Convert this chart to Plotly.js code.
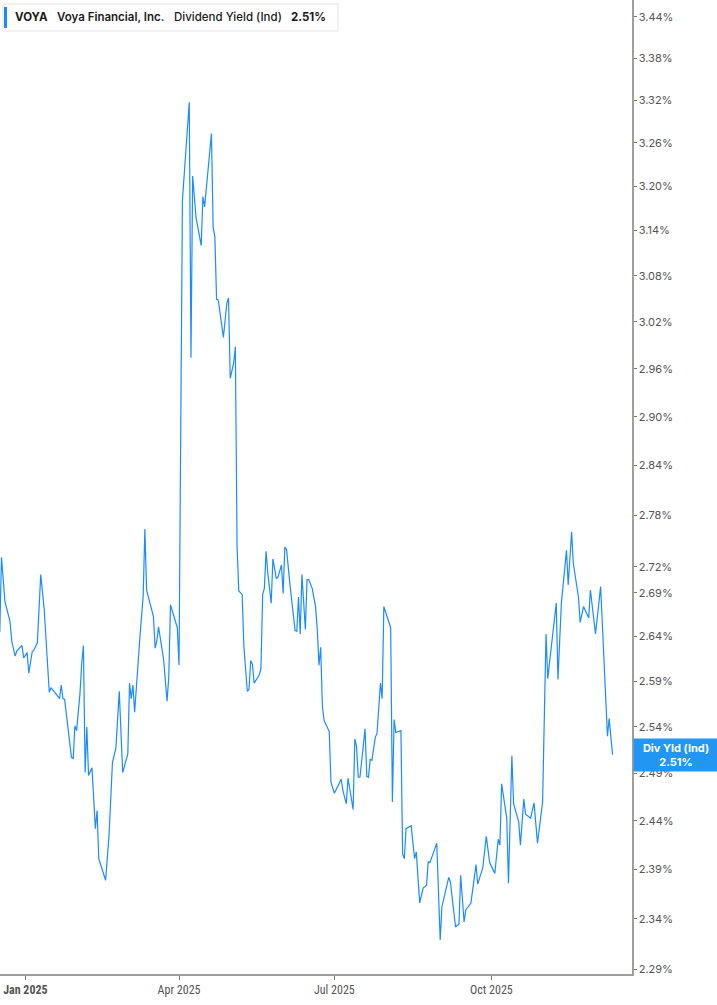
<!DOCTYPE html>
<html>
<head>
<meta charset="utf-8">
<script src="https://cdn.plot.ly/plotly-3.0.1.min.js"></script>
<style>
  html, body { margin: 0; padding: 0; background: #ffffff; }
  #chart { width: 717px; height: 1005px; }
</style>
</head>
<body>
<div id="chart"></div>
<script>
// ---- Data ----
const ticker = "VOYA";
const company = "Voya Financial, Inc.";
const seriesName = "Dividend Yield (Ind)";
const shortName = "Div Yld (Ind)";

const dates = [
  "2024-12-17","2024-12-18","2024-12-20","2024-12-23","2024-12-24","2024-12-26","2024-12-27","2024-12-30","2024-12-31","2025-01-02",
  "2025-01-03","2025-01-05","2025-01-06","2025-01-08","2025-01-10","2025-01-12","2025-01-15","2025-01-16","2025-01-19","2025-01-21",
  "2025-01-22","2025-01-23","2025-01-24","2025-01-26","2025-01-28","2025-01-29","2025-01-30","2025-01-31","2025-02-02","2025-02-03",
  "2025-02-04","2025-02-05","2025-02-06","2025-02-07","2025-02-09","2025-02-11","2025-02-12","2025-02-13","2025-02-17","2025-02-19",
  "2025-02-21","2025-02-23","2025-02-25","2025-02-27","2025-03-02","2025-03-03","2025-03-04","2025-03-05","2025-03-06","2025-03-09",
  "2025-03-11","2025-03-12","2025-03-13","2025-03-17","2025-03-18","2025-03-19","2025-03-20","2025-03-23","2025-03-25","2025-03-26",
  "2025-03-27","2025-03-31","2025-04-01","2025-04-03","2025-04-07","2025-04-08","2025-04-09","2025-04-11","2025-04-14","2025-04-15",
  "2025-04-16","2025-04-20","2025-04-21","2025-04-22","2025-04-23","2025-04-24","2025-04-27","2025-04-29","2025-04-30","2025-05-01",
  "2025-05-03","2025-05-04","2025-05-05","2025-05-06","2025-05-08","2025-05-09","2025-05-11","2025-05-12","2025-05-13","2025-05-14",
  "2025-05-15","2025-05-18","2025-05-19","2025-05-20","2025-05-21","2025-05-22","2025-05-23","2025-05-25","2025-05-26","2025-05-28",
  "2025-05-29","2025-05-31","2025-06-01","2025-06-02","2025-06-03","2025-06-05","2025-06-07","2025-06-08","2025-06-09","2025-06-10",
  "2025-06-11","2025-06-12","2025-06-13","2025-06-14","2025-06-15","2025-06-16","2025-06-18","2025-06-20","2025-06-21","2025-06-22",
  "2025-06-23","2025-06-24","2025-06-25","2025-06-28","2025-06-29","2025-07-01","2025-07-05","2025-07-06","2025-07-08","2025-07-09",
  "2025-07-12","2025-07-13","2025-07-14","2025-07-15","2025-07-16","2025-07-19","2025-07-20","2025-07-21","2025-07-22","2025-07-23",
  "2025-07-25","2025-07-26","2025-07-28","2025-07-29","2025-07-30","2025-08-03","2025-08-04","2025-08-05","2025-08-06","2025-08-09",
  "2025-08-10","2025-08-11","2025-08-12","2025-08-15","2025-08-17","2025-08-18","2025-08-20","2025-08-22","2025-08-24","2025-08-25",
  "2025-08-26","2025-08-30","2025-09-01","2025-09-02","2025-09-06","2025-09-07","2025-09-10","2025-09-12","2025-09-13","2025-09-15",
  "2025-09-16","2025-09-19","2025-09-22","2025-09-23","2025-09-26","2025-09-28","2025-09-30","2025-10-03","2025-10-05","2025-10-06",
  "2025-10-07","2025-10-10","2025-10-11","2025-10-13","2025-10-14","2025-10-17","2025-10-18","2025-10-20","2025-10-21","2025-10-24",
  "2025-10-26","2025-10-28","2025-10-31","2025-11-02","2025-11-03","2025-11-06","2025-11-08","2025-11-09","2025-11-11","2025-11-14",
  "2025-11-15","2025-11-17","2025-11-18","2025-11-21","2025-11-22","2025-11-24","2025-11-27","2025-11-28","2025-12-01","2025-12-04",
  "2025-12-08","2025-12-09","2025-12-11"
];

const yieldPct = [
  2.645,2.731,2.680,2.657,2.635,2.618,2.624,2.630,2.616,2.622,
  2.599,2.623,2.625,2.633,2.711,2.671,2.578,2.583,2.576,2.571,
  2.586,2.571,2.570,2.537,2.507,2.506,2.541,2.536,2.577,2.610,
  2.630,2.491,2.540,2.488,2.496,2.432,2.451,2.401,2.379,2.425,
  2.502,2.517,2.579,2.491,2.511,2.588,2.571,2.586,2.556,2.637,
  2.686,2.764,2.693,2.663,2.627,2.635,2.651,2.614,2.568,2.595,
  2.676,2.650,2.608,3.181,3.317,2.974,3.214,3.157,3.120,3.186,
  3.172,3.273,3.144,3.132,3.049,3.048,3.000,3.044,3.051,2.948,
  2.967,2.988,2.744,2.692,2.688,2.629,2.579,2.581,2.613,2.609,
  2.588,2.597,2.604,2.688,2.695,2.738,2.713,2.678,2.729,2.706,
  2.708,2.722,2.689,2.743,2.740,2.699,2.667,2.647,2.646,2.685,
  2.643,2.711,2.680,2.648,2.705,2.705,2.695,2.674,2.648,2.608,
  2.628,2.562,2.547,2.535,2.481,2.469,2.484,2.472,2.458,2.485,
  2.452,2.527,2.519,2.486,2.486,2.538,2.487,2.486,2.505,2.504,
  2.529,2.533,2.588,2.571,2.674,2.650,2.460,2.548,2.534,2.536,
  2.406,2.401,2.432,2.435,2.401,2.408,2.356,2.371,2.374,2.398,
  2.397,2.417,2.319,2.352,2.382,2.377,2.332,2.335,2.384,2.337,
  2.349,2.356,2.395,2.375,2.392,2.424,2.397,2.386,2.421,2.415,
  2.479,2.443,2.376,2.509,2.458,2.439,2.415,2.463,2.447,2.443,
  2.459,2.417,2.460,2.643,2.593,2.646,2.678,2.592,2.678,2.739,
  2.699,2.761,2.724,2.685,2.656,2.674,2.661,2.693,2.643,2.697,
  2.530,2.549,2.51
];

const yTickVals = [2.29,2.34,2.39,2.44,2.49,2.54,2.59,2.64,2.69,2.72,2.78,2.84,2.90,2.96,3.02,3.08,3.14,3.20,3.26,3.32,3.38,3.44];
const yTickText = yTickVals.map(v => v.toFixed(2) + "%");

const xTickVals = ["2025-01-01","2025-04-01","2025-07-01","2025-10-01"];
const xTickText = ["<b>Jan 2025</b>","Apr 2025","Jul 2025","Oct 2025"];

// ---- Styling / layout ----
const LINE = "#1a8cff";
const W = 717, H = 1005;
const M = {l: 0, r: 85, t: 0, b: 31};
const plotW = W - M.l - M.r;   // 632
const plotH = H - M.t - M.b;   // 974
const px = x => x / plotW;           // pixel -> paper x
const py = y => 1 - y / plotH;       // pixel from top -> paper y

const lastVal = yieldPct[yieldPct.length - 1];
const lastTxt = lastVal.toFixed(2) + "%";

const trace = {
  x: dates,
  y: yieldPct,
  type: "scatter",
  mode: "lines",
  line: {color: LINE, width: 1.2},
  hoverinfo: "skip",
  showlegend: false
};

const legendFontFamily = "Inter, 'Noto Sans', sans-serif";
const legendY = py(17);

const layout = {
  width: W, height: H,
  margin: M,
  paper_bgcolor: "#ffffff",
  plot_bgcolor: "#ffffff",
  showlegend: false,
  xaxis: {
    type: "date",
    range: ["2024-12-17 03:00", "2025-12-22 09:00"],
    tickmode: "array",
    tickvals: xTickVals,
    ticktext: xTickText,
    ticks: "outside",
    ticklen: 4,
    tickcolor: "#777",
    tickwidth: 1,
    showline: true,
    linecolor: "#9e9e9e",
    linewidth: 1.5,
    showgrid: false,
    zeroline: false,
    tickfont: {family: "'Liberation Sans Narrow', 'Roboto Condensed', Roboto, sans-serif", size: 12, color: "#555"},
    fixedrange: true
  },
  yaxis: {
    type: "log",
    side: "right",
    range: [0.35900, 0.53971],
    tickmode: "array",
    tickvals: yTickVals,
    ticktext: yTickText,
    ticks: "outside",
    ticklen: 3,
    tickcolor: "#777",
    tickwidth: 1,
    showline: true,
    linecolor: "#9e9e9e",
    linewidth: 1.5,
    showgrid: false,
    zeroline: false,
    tickfont: {family: "Inter, 'Noto Sans', sans-serif", size: 11, color: "#555"},
    fixedrange: true
  },
  shapes: [
    {type: "rect", xref: "paper", yref: "paper",
     x0: px(3), x1: px(338), y0: py(31), y1: py(4),
     fillcolor: "#ffffff", line: {color: "#e3e3e3", width: 1}, layer: "above"},
    {type: "rect", xref: "paper", yref: "paper",
     x0: px(4), x1: px(7), y0: py(28), y1: py(7),
     fillcolor: LINE, line: {width: 0}, layer: "above"}
  ],
  annotations: [
    {xref: "paper", yref: "paper", x: px(13), y: legendY, xanchor: "left", yanchor: "middle",
     text: "<b>" + ticker + "</b>", showarrow: false,
     font: {family: legendFontFamily, size: 11.5, color: "#1a1a1a", weight: 700}},
    {xref: "paper", yref: "paper", x: px(55), y: legendY, xanchor: "left", yanchor: "middle",
     text: company, showarrow: false,
     font: {family: legendFontFamily, size: 11.5, color: "#1a1a1a", weight: 600}},
    {xref: "paper", yref: "paper", x: px(172), y: legendY, xanchor: "left", yanchor: "middle",
     text: seriesName, showarrow: false,
     font: {family: legendFontFamily, size: 11.5, color: "#1a1a1a", weight: 500}},
    {xref: "paper", yref: "paper", x: px(289), y: legendY, xanchor: "left", yanchor: "middle",
     text: "<b>" + lastTxt + "</b>", showarrow: false,
     font: {family: legendFontFamily, size: 11.5, color: "#1a1a1a", weight: 700}},
    {xref: "paper", yref: "y", x: 1, y: Math.log10(lastVal), xanchor: "left", yanchor: "middle",
     xshift: 1,
     text: "<b>" + shortName + "</b><br><b>" + lastTxt + "</b>", showarrow: false,
     align: "center",
     bgcolor: "#2196f3", borderpad: 2, width: 80,
     font: {family: "Inter, 'Noto Sans', sans-serif", size: 11, color: "#ffffff"}}
  ]
};

Plotly.newPlot("chart", [trace], layout, {displayModeBar: false, staticPlot: true});
</script>
</body>
</html>
